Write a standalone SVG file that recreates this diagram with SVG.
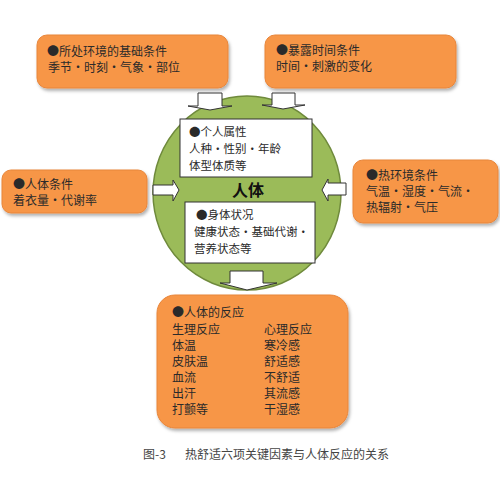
<svg xmlns="http://www.w3.org/2000/svg" width="500" height="487" viewBox="0 0 500 487">
<defs>
<filter id="sh" x="-10%" y="-10%" width="130%" height="140%">
<feDropShadow dx="1.5" dy="2.5" stdDeviation="1.5" flood-color="#000" flood-opacity="0.3"/>
</filter>
<style>
.ob{fill:#F79646;stroke:#E8853A;stroke-width:1;filter:url(#sh)}
.wb{fill:#fff;stroke:#333;stroke-width:1}
.ar{fill:#fff;stroke:#333;stroke-width:1;stroke-linejoin:miter}
.t{font-family:"Noto Sans CJK SC","Noto Sans CJK JP",sans-serif;font-size:12px;fill:#2a2a2a}
.s{font-size:11.5px}
.big{font-family:"Noto Sans CJK SC",sans-serif;font-size:16px;font-weight:bold;fill:#111}
.cap{font-family:"Noto Sans CJK SC",sans-serif;font-size:12px;fill:#444}
</style>
</defs>
<rect width="500" height="487" fill="#fff"/>

<g id="env-basic">
<rect class="ob" x="37" y="35" width="191" height="53" rx="10"/>
<text class="t" x="47" y="56">●所处环境的基础条件</text>
<text class="t" x="48" y="72">季节・时刻・气象・部位</text>
</g>

<g id="exposure">
<rect class="ob" x="265" y="35" width="191" height="53" rx="10"/>
<text class="t" x="276" y="55">●暴露时间条件</text>
<text class="t" x="276" y="71">时间・刺激的变化</text>
</g>

<g id="human-body">
<ellipse cx="247" cy="193" rx="94" ry="97" fill="#9BBB59" stroke="#6F8A3C" stroke-width="1.5"/>
<rect class="wb" x="180" y="119" width="132" height="58"/>
<text class="t s" x="189" y="136">●个人属性</text>
<text class="t s" x="189" y="153">人种・性别・年龄</text>
<text class="t s" x="189" y="170">体型体质等</text>
<text class="big" x="248" y="196" text-anchor="middle">人体</text>
<rect class="wb" x="185" y="202" width="130" height="61"/>
<text class="t s" x="196" y="219">●身体状况</text>
<text class="t s" x="194" y="236">健康状态・基础代谢・</text>
<text class="t s" x="194" y="253">营养状态等</text>
</g>

<g id="body-cond">
<rect class="ob" x="2" y="170" width="145" height="43" rx="9"/>
<text class="t" x="13" y="189">●人体条件</text>
<text class="t" x="13" y="205">着衣量・代谢率</text>
</g>

<g id="thermal-env">
<rect class="ob" x="353" y="160" width="145" height="63" rx="10"/>
<text class="t" x="366" y="180">●热环境条件</text>
<text class="t" x="366" y="196">气温・湿度・气流・</text>
<text class="t" x="366" y="212">热辐射・气压</text>
</g>

<g id="response">
<rect class="ob" x="157" y="295" width="191" height="133" rx="18"/>
<text class="t" x="172" y="317">●人体的反应</text>
<text class="t" x="172" y="334">生理反应</text>
<text class="t" x="172" y="350">体温</text>
<text class="t" x="172" y="366">皮肤温</text>
<text class="t" x="172" y="382">血流</text>
<text class="t" x="172" y="398">出汗</text>
<text class="t" x="172" y="414">打颤等</text>
<text class="t" x="264" y="334">心理反应</text>
<text class="t" x="264" y="350">寒冷感</text>
<text class="t" x="264" y="366">舒适感</text>
<text class="t" x="264" y="382">不舒适</text>
<text class="t" x="264" y="398">其流感</text>
<text class="t" x="264" y="414">干湿感</text>
</g>

<g id="connectors">
<path class="ar" d="M198,93 H222 V106 H232 L210,110 L188,106 H198 Z"/>
<path class="ar" d="M272,93 H295 V105 H305 L283,109 L262,105 H272 Z"/>
<path class="ar" d="M153,185 H173 V180 L179,190 L173,201 V195 H153 Z"/>
<path class="ar" d="M346,183 H328 V179 L322,190 L328,201 V195 H346 Z"/>
<path class="ar" d="M230,271 H263 V283 H277 L247,290 L220,283 H230 Z"/>
</g>

<g id="caption">
<text class="cap" x="143" y="459">图-3</text>
<text class="cap" x="185" y="459">热舒适六项关键因素与人体反应的关系</text>
</g>
</svg>
